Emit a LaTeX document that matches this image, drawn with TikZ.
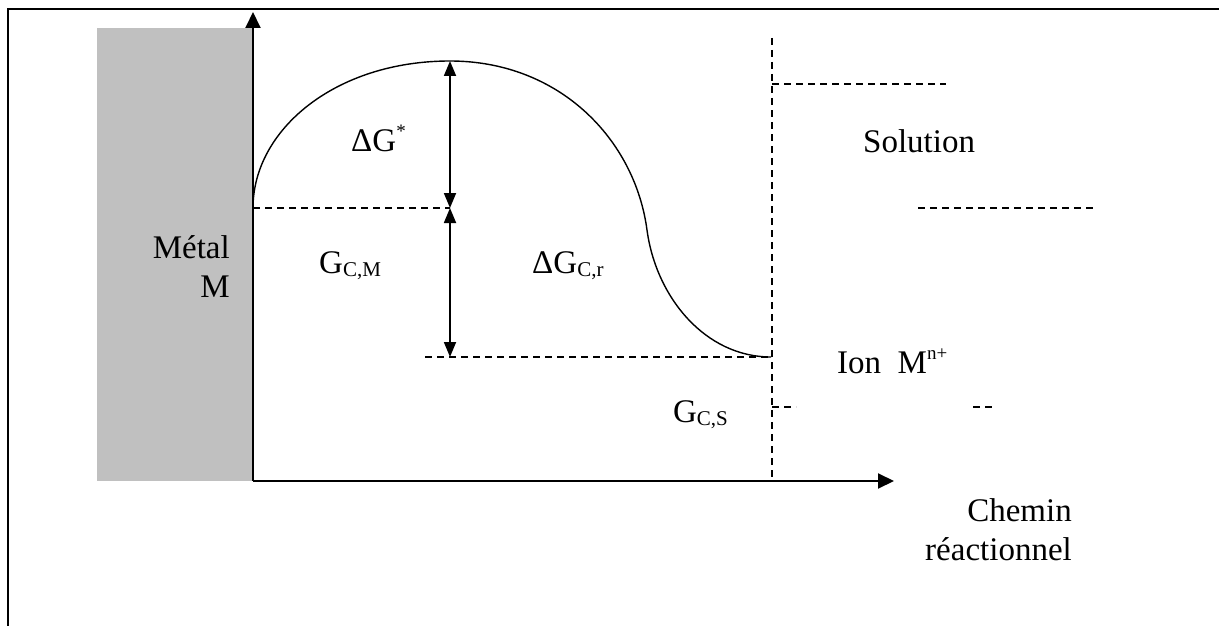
\documentclass[tikz,border=0pt]{standalone}
\usepackage{fontspec}
\setmainfont{Liberation Serif}
\usetikzlibrary{arrows.meta}
\newcommand{\sbs}[1]{\raisebox{-0.12em}{\fontsize{21}{23}\selectfont #1}}
\newcommand{\sps}[1]{\raisebox{0.42em}{\fontsize{19}{21}\selectfont #1}}
\tikzset{
  lbl/.style={inner sep=0pt, font=\fontsize{33}{39}\selectfont},
  dsh/.style={line width=1.1pt, dash pattern=on 7pt off 5pt},
  axis/.style={line width=2pt, -{Triangle[length=16pt,width=15pt]}},
  dim/.style={line width=1.8pt, {Triangle[length=15pt,width=12pt]}-{Triangle[length=15pt,width=12pt]}},
  frame/.style={line width=2.4pt}
}
\begin{document}
\begin{tikzpicture}[x=1pt,y=-1pt]
\useasboundingbox (0,0) rectangle (1219,626);
% frame
\draw[frame] (8,640) -- (8,9) -- (1230,9);
% metal block
\fill[fill={rgb,255:red,192;green,192;blue,192}] (97,28) rectangle (252,481);
% coordinates
\coordinate (O) at (253,481);
\coordinate (Ytop) at (253,12);
\coordinate (Xend) at (894,481);
\coordinate (A) at (253,208);
\coordinate (P) at (450,61);
\coordinate (Q) at (647,230);
\coordinate (E) at (771,357);
\coordinate (Pm) at (450,208);
\coordinate (Pb) at (450,357);
\coordinate (Lb) at (425,357);
\coordinate (Vt) at (772,38);
\coordinate (Vb) at (772,481);
\coordinate (Vl) at (772,357);
\coordinate (S1) at (772,84);
\coordinate (S1e) at (946,84);
\coordinate (S2a) at (918,208);
\coordinate (S2b) at (1094,208);
\coordinate (S3a) at (772,407);
\coordinate (S3b) at (796,407);
\coordinate (S4a) at (973,407);
\coordinate (S4b) at (996,407);
% axes
\draw[axis] (O) -- (Ytop);
\draw[axis] (O) -- (Xend);
% dashed lines
\draw[dsh] (A) -- (Pm);
\draw[dsh] (Lb) -- (Vl);
\draw[dsh] (Vt) -- (Vb);
\draw[dsh] (S1) -- (S1e);
\draw[dsh] (S2a) -- (S2b);
\draw[dsh] (S3a) -- (S3b);
\draw[dsh] (S4a) -- (S4b);
% curve
\draw[line width=1.4pt] (A) .. controls (253,130) and (335,61) .. (P)
  .. controls (560,61) and (635,140) .. (Q)
  .. controls (656,297) and (705,357) .. (E);
% dimension arrows
\draw[dim] (P) -- (Pm);
\draw[dim] (Pm) -- (Pb);
% labels
\node[lbl, anchor=base west] (dgs) at (351,151) {ΔG\sps{*}};
\node[lbl, anchor=base east, align=right] (metal) at (230,297) {Métal\\M};
\node[lbl, anchor=base west] (gcm) at (319,273) {G\sbs{C,M}};
\node[lbl, anchor=base west] (dgcr) at (532,273) {ΔG\sbs{C,r}};
\node[lbl, anchor=base west] (sol) at (863,152) {Solution};
\node[lbl, anchor=base west] (ion) at (837,373) {Ion\ \ M\sps{n+}};
\node[lbl, anchor=base east] (gcs) at (728,422) {G\sbs{C,S}};
\node[lbl, anchor=base east, align=right] (chemin) at (1072,560) {Chemin\\réactionnel};
\end{tikzpicture}
\end{document}
